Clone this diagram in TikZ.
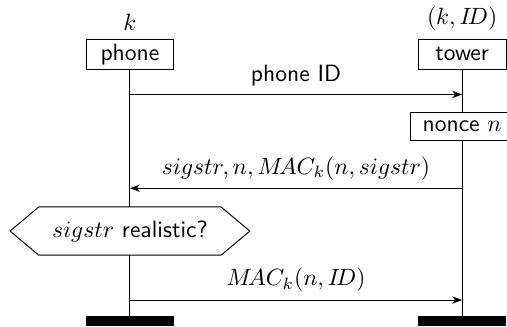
\documentclass[tikz,border=0pt]{standalone}
\usetikzlibrary{arrows.meta,positioning,shapes.symbols}

\begin{document}
\begin{tikzpicture}[font=\sffamily,>={Stealth[length=1.5mm,width=1.1mm]},party/.style={draw,fill=white,minimum width=1.31cm,minimum height=.45cm,inner sep=0pt},act/.style={draw,fill=white,minimum height=.41cm,inner xsep=5.3pt,inner ysep=0pt},check/.style={draw,fill=white,signal,signal to=west and east,signal pointer angle=80,minimum width=3.58cm,minimum height=.72cm,inner sep=0pt},endbar/.style={fill=black,minimum width=1.31cm,minimum height=.15cm,inner sep=0pt}]
\useasboundingbox (0,0) rectangle (7.57,4.87);
\node[endbar] (phoneend) at (1.94,.075) {};
\node[endbar] (towerend) at (6.90,.075) {};
\node[party] (phone) at (1.94,4.06) {phone};
\node[party] (tower) at (6.90,4.06) {tower};
\draw (phone) -- (phoneend);
\draw (tower) -- (towerend);
\node[above=0pt of phone] (phonekey) {$k$};
\node[above=0pt of tower] (towerkey) {$(k,I\!D)$};
\coordinate (p1) at (1.94,3.46);
\coordinate (t1) at (6.90,3.46);
\draw[->] (p1) -- node[above] {phone ID} (t1);
\node[act] (nonce) at (6.90,2.98) {nonce $n$};
\coordinate (t2) at (6.90,2.06);
\coordinate (p2) at (1.94,2.06);
\draw[->] (t2) -- node[above] {$sigstr,n,M\!AC_k(n,sigstr)$} (p2);
\node[check] (real) at (1.94,1.42) {$sigstr$ realistic?};
\coordinate (p3) at (1.94,.39);
\coordinate (t3) at (6.90,.39);
\draw[->] (p3) -- node[above] {$M\!AC_k(n,I\!D)$} (t3);
\end{tikzpicture}
\end{document}
